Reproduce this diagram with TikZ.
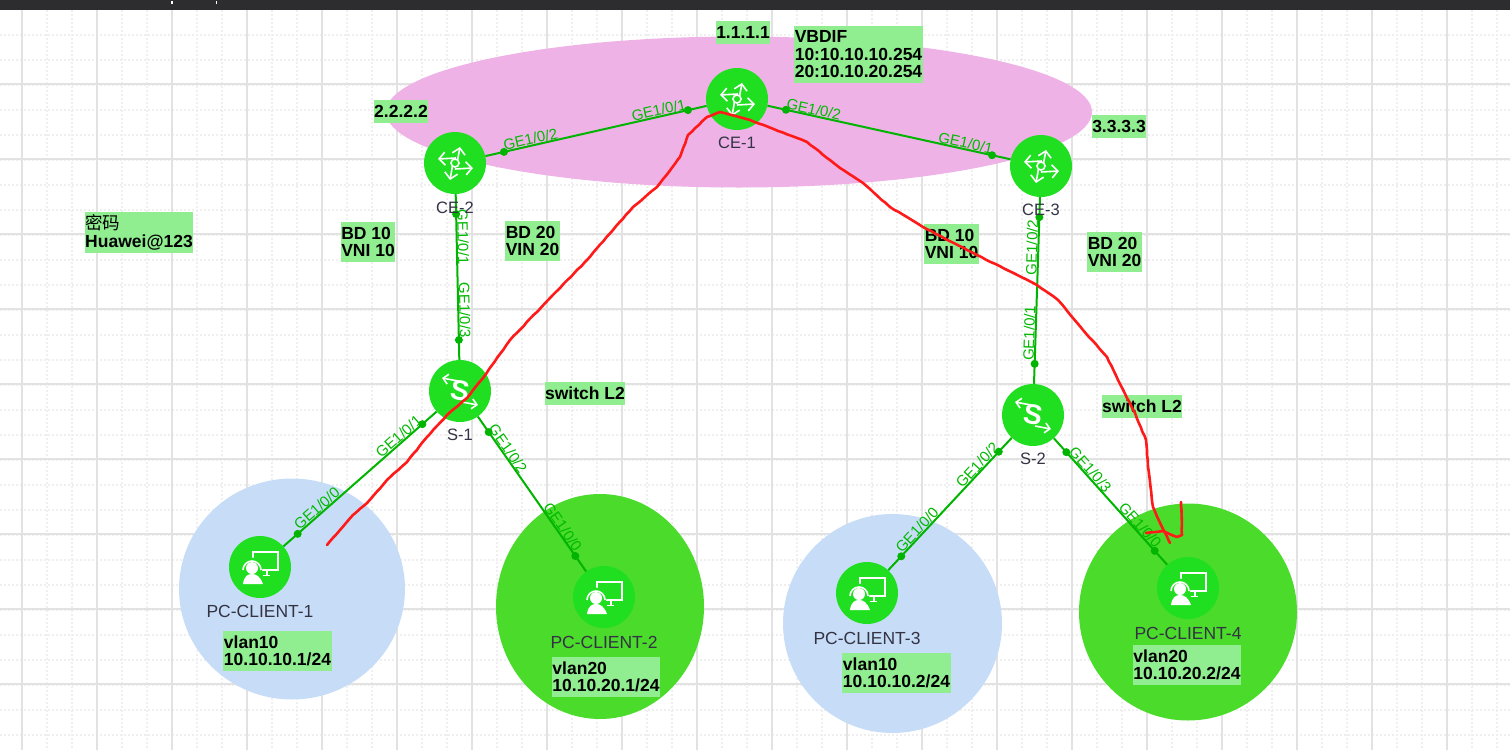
\documentclass[tikz,border=0pt]{standalone}
\usepackage{fontspec}
\setmainfont{Liberation Sans}
\newfontfamily\cjkfont{Noto Sans CJK SC}
\usepackage{tikz}
\usetikzlibrary{arrows.meta}
\usetikzlibrary{decorations.pathmorphing}

\definecolor{gridmajor}{HTML}{E2E2E2}
\definecolor{gridminor}{HTML}{EFEFEF}
\definecolor{topbar}{HTML}{2D2D30}
\definecolor{devgreen}{HTML}{20DF20}
\definecolor{linkgreen}{HTML}{00B400}
\definecolor{porttext}{HTML}{00BA00}
\definecolor{boxgreen}{HTML}{90EE90}
\definecolor{zonepink}{HTML}{EEB2E6}
\definecolor{zoneblue}{HTML}{C7DDF7}
\definecolor{zonegreen}{HTML}{4ADB2B}
\definecolor{inkred}{HTML}{FF1A1A}
\definecolor{devtext}{HTML}{333344}

\tikzset{
    device/.style={circle,fill=devgreen,minimum size=62pt,inner sep=0pt},
    link/.style={draw=linkgreen,line width=2pt},
    portdot/.style={circle,fill=linkgreen,minimum size=8pt,inner sep=0pt},
    portlabel/.style={above,sloped,inner sep=0pt,text=porttext,font=\fontsize{15}{15}\selectfont},
    devname/.style={text=devtext,inner sep=0pt,font=\fontsize{16.5}{17}\selectfont},
    pcname/.style={devname,font=\fontsize{17.5}{18}\selectfont},
    infobox/.style={fill=boxgreen,inner xsep=0.5pt,inner ysep=0pt,align=left,text=black,
        font=\fontsize{17.5}{17.5}\selectfont\bfseries},
    inkline/.style={draw=inkred,line width=2.6pt,line join=round,line cap=round,
        decorate,decoration={random steps,segment length=5pt,amplitude=.3pt}},
    iconline/.style={draw=white,line width=1.6pt},
    iconarrow/.style={iconline,-{Straight Barb[length=6pt,width=13pt]}},
    routericon/.pic={
        \draw[iconarrow] (2,0)--(5,-16);
        \draw[iconarrow] (0,6)--(18,5);
        \draw[iconarrow] (-2,0)--(-5,17);
        \draw[iconarrow] (1,-5)--(-17,-4);
        \draw[iconline,fill=devgreen] (0,0) circle (4);
    },
    switchicon/.pic={
        \draw[iconline,-{Straight Barb[length=5pt,width=10pt]}] (-2,-10)--(-18,-13);
        \draw[iconline,-{Straight Barb[length=5pt,width=10pt]}] (2,11)--(18,14);
        \node[rotate=-10,text=white,inner sep=0pt,font=\fontsize{28}{28}\selectfont\bfseries] at (0,0) {S};
    },
    pcicon/.pic={
        \draw[iconline] (-7,-15) rectangle (18,3);
        \draw[iconline] (7,3)--(7,8) (2.5,8.5)--(10,8.5);
        \fill[devgreen] (-8,1) circle (10.5);
        \draw[iconline] (-17,3) arc (180:360:9);
        \fill[white] (-8,1) circle (6);
        \fill[white] (-17,17)..controls (-16,9) and (-12,7) .. (-8,7) .. controls (-4,7) and (0,9) .. (3,17)--cycle;
    }
}

\begin{document}
\begin{tikzpicture}[x=1pt,y=-1pt]
    \useasboundingbox (0,0) rectangle (1510,750);
    \fill[white] (0,0) rectangle (1510,750);
    % grid
    \foreach \x in {47,72,...,1510}
    {
        \draw[gridminor,line width=1.8pt,dash pattern=on 2pt off 2pt] (\x,10)--(\x,750);
    }
    \foreach \y in {35,60,...,750}
    {
        \draw[gridminor,line width=1.8pt,dash pattern=on 2pt off 2pt] (0,\y)--(1510,\y);
    }
    \foreach \x in {22,97,...,1510}
    {
        \draw[gridmajor,line width=2pt] (\x,10)--(\x,750);
    }
    \foreach \y in {84,159,...,750}
    {
        \draw[gridmajor,line width=2pt] (0,\y)--(1510,\y);
    }
    \fill[topbar] (0,0) rectangle (1510,10);
    \fill[white] (171,1) rectangle (173,4);
    \fill[white] (216,1) rectangle (217,4);
    % zones
    \fill[zonepink] (739,112) ellipse (353 and 75.5);
    \fill[zoneblue] (292,589) ellipse (113 and 110.5);
    \fill[zonegreen] (600,606.5) ellipse (104 and 112.5);
    \fill[zoneblue] (892.5,623.5) ellipse (109.5 and 109.5);
    \fill[zonegreen] (1188,612) ellipse (109 and 108.5);
    % devices
    \node[device] (ceone) at (737,99) {};
    \node[device] (cetwo) at (455,163) {};
    \node[device] (cethree) at (1041,166) {};
    \node[device] (swone) at (460,391) {};
    \node[device] (swtwo) at (1033,415) {};
    \node[device] (pcone) at (260,567) {};
    \node[device] (pctwo) at (604,597) {};
    \node[device] (pcthree) at (867,593) {};
    \node[device] (pcfour) at (1188,588) {};
    \foreach \n in {ceone,cetwo,cethree}
    {
        \pic at (\n) {routericon};
    }
    \foreach \n in {swone,swtwo}
    {
        \pic at (\n) {switchicon};
    }
    \foreach \n in {pcone,pctwo,pcthree,pcfour}
    {
        \pic at (\n) {pcicon};
    }
    % links
    \draw[link] (ceone)--node[portdot,pos=.084]{}node[portdot,pos=.916]{}
        node[portlabel,pos=.21]{GE1/0/1}node[portlabel,pos=.79]{GE1/0/2}(cetwo);
    \draw[link] (ceone)--node[portdot,pos=.076]{}node[portdot,pos=.924]{}
        node[portlabel,pos=.185]{GE1/0/2}node[portlabel,pos=.81]{GE1/0/1}(cethree);
    \draw[link] (cetwo)--node[portdot,pos=.12]{}node[portdot,pos=.88]{}
        node[portlabel,pos=.26]{GE1/0/1}node[portlabel,pos=.70]{GE1/0/3}(swone);
    \draw[link] (cethree)--node[portdot,pos=.107]{}node[portdot,pos=.893]{}
        node[portlabel,pos=.27]{GE1/0/2}node[portlabel,pos=.73]{GE1/0/1}(swtwo);
    \draw[link] (swone)--node[portdot,pos=.093]{}node[portdot,pos=.907]{}
        node[portlabel,pos=.22]{GE1/0/1}node[portlabel,pos=.755]{GE1/0/0}(pcone);
    \draw[link] (swone)--node[portdot,pos=.10]{}node[portdot,pos=.90]{}
        node[portlabel,pos=.23]{GE1/0/2}node[portlabel,pos=.735]{GE1/0/0}(pctwo);
    \draw[link] (swtwo)--node[portdot,pos=.105]{}node[portdot,pos=.895]{}
        node[portlabel,pos=.24]{GE1/0/2}node[portlabel,pos=.73]{GE1/0/0}(pcthree);
    \draw[link] (swtwo)--node[portdot,pos=.11]{}node[portdot,pos=.89]{}
        node[portlabel,pos=.28]{GE1/0/3}node[portlabel,pos=.72]{GE1/0/0}(pcfour);
    % device names
    \node[devname] (ceonename) at (737,143) {CE-1};
    \node[devname] (cetwoname) at (455,208) {CE-2};
    \node[devname] (cethreename) at (1041,210) {CE-3};
    \node[devname] (swonename) at (460,435) {S-1};
    \node[devname] (swtwoname) at (1033,459) {S-2};
    \node[pcname] (pconename) at (260,611) {PC-CLIENT-1};
    \node[pcname] (pctwoname) at (604,642) {PC-CLIENT-2};
    \node[pcname] (pcthreename) at (867,638) {PC-CLIENT-3};
    \node[pcname] (pcfourname) at (1188,633) {PC-CLIENT-4};
    % notes
    \node[infobox,minimum height=23pt] (loopone) at (743,32) {1.1.1.1};
    \node[infobox,minimum height=23pt] (looptwo) at (401,111.5) {2.2.2.2};
    \node[infobox,minimum height=23pt] (loopthree) at (1119,126) {3.3.3.3};
    \node[infobox,minimum height=57pt] (vbdif) at (858.5,54.5) {VBDIF\\10:10.10.10.254\\20:10.10.20.254};
    \node[infobox,minimum height=40pt] (bdonea) at (368,242) {BD 10\\VNI 10};
    \node[infobox,minimum height=40pt] (bdoneb) at (532.5,241) {BD 20\\VIN 20};
    \node[infobox,minimum height=40pt] (bdtwoa) at (951.5,244) {BD 10\\VNI 10};
    \node[infobox,minimum height=40pt] (bdtwob) at (1114.5,252) {BD 20\\VNI 20};
    \node[infobox,minimum height=23pt] (l2one) at (585,393.5) {switch L2};
    \node[infobox,minimum height=23pt] (l2two) at (1142,406.5) {switch L2};
    \node[infobox,minimum height=40pt] (vlanone) at (277.5,651) {vlan10\\10.10.10.1/24};
    \node[infobox,minimum height=40pt] (vlantwo) at (606,677) {vlan20\\10.10.20.1/24};
    \node[infobox,minimum height=40pt] (vlanthree) at (896.5,673) {vlan10\\10.10.10.2/24};
    \node[infobox,minimum height=40pt] (vlanfour) at (1187,665) {vlan20\\10.10.20.2/24};
    \node[infobox,minimum height=41pt] (passwd) at (139,232.5) {{\cjkfont\mdseries 密码}\\Huawei@123};
    % red trace
    \draw[inkline] (327,545)--(340,530)--(353,515)--(367,503)--(387,480)--(407,462)--(427,437)--(447,415)
        --(467,398)--(483,378)--(510,340)--(550,298)--(587,260)--(613,230)--(633,207)--(657,187)--(680,157)
        --(688,135)--(707,117)--(720,112)--(750,120)--(807,142)--(840,168)--(863,183)--(890,207)--(923,227)
        --(977,255)--(1037,285)--(1058,300)--(1083,330)--(1107,357)--(1118,380)--(1135,413)--(1146,440)
        --(1148,467)--(1153,507)--(1162,527)--(1170,543);
    \draw[inkline] (1146,533)--(1163,531)--(1177,537)--(1182,535)--(1181,502);
\end{tikzpicture}
\end{document}
